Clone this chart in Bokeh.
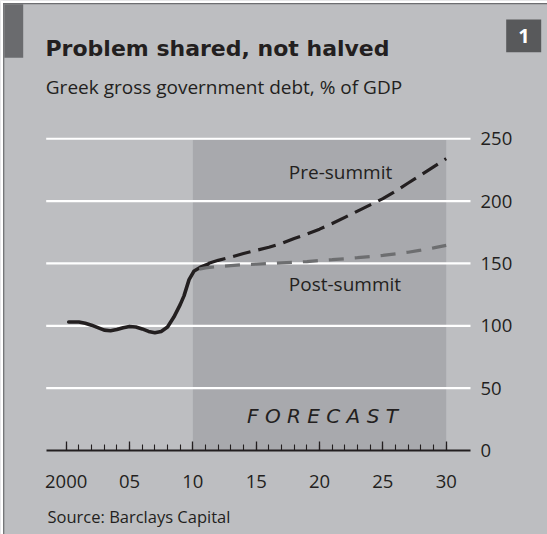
from bokeh.plotting import figure
from bokeh.models import Range1d, LinearAxis, FixedTicker, CustomJSTickFormatter
from bokeh.core.properties import value
from bokeh.embed import file_html
from bokeh.resources import INLINE

# ---------------- data ----------------
hist_years = [2000.2, 2001.0, 2001.5, 2002.0, 2002.5, 2003.0, 2003.5, 2004.0, 2004.5,
              2005.0, 2005.5, 2006.0, 2006.5, 2007.0, 2007.5, 2008.0, 2008.5, 2009.0,
              2009.3, 2009.7, 2010.1, 2010.6, 2011.2]
hist_debt = [103, 103, 102, 100.5, 98.5, 96.5, 96, 97, 98.5,
             99.5, 99, 97.5, 95.5, 94.5, 95.5, 99, 107, 117,
             124, 137, 144, 147, 149.5]

pre_years = [2011.2, 2012, 2013, 2014, 2015, 2016, 2017, 2018, 2019, 2020,
             2021, 2022, 2023, 2024, 2025, 2026, 2027, 2028, 2029, 2030]
pre_debt = [150, 152.5, 155, 158, 160.5, 163, 166, 170, 173.5, 177.5,
            182, 187, 192, 197, 202, 208, 214.5, 221, 227.5, 234]

post_years = [2010.5, 2011, 2012, 2013, 2014, 2015, 2016, 2017, 2018, 2019, 2020,
              2021, 2022, 2023, 2024, 2025, 2026, 2027, 2028, 2029, 2030]
post_debt = [145.5, 146.5, 147.5, 148.3, 149, 149.5, 150, 150.5, 151, 151.5, 152.3,
             153, 153.8, 154.6, 155.5, 156.5, 157.7, 159, 160.7, 162.5, 164.5]

forecast_span = [2010, 2030]
forecast_top = 249

y_ticks = [0, 50, 100, 150, 200, 250]
x_major = [2000, 2005, 2010, 2015, 2020, 2025, 2030]
x_minor = list(range(2000, 2031))
x_labels = {2000: "2000", 2005: "05", 2010: "10", 2015: "15", 2020: "20", 2025: "25", 2030: "30"}

title_text = "Problem shared, not halved"
subtitle_text = "Greek gross government debt, % of GDP"
source_text = "Source: Barclays Capital"
chart_no = "1"
pre_label = "Pre-summit"
post_label = "Post-summit"
forecast_label = "F O R E C A S T"

# ---------------- layout helpers (reference pixel -> data) ----------------
W, H = 547, 534
X2000_PX, PX_YEAR = 65.7, 12.667
Y0_PX, PX_UNIT = 450.0, 1.247


def dx(px):
    return 2000 + (px - X2000_PX) / PX_YEAR


def dy(py):
    return (Y0_PX - py) / PX_UNIT


BG = "#bdbec1"
SHADE = "#a8a9ad"
INK = "#231f20"
FONT = "Open Sans"

p = figure(width=W, height=H, output_backend="svg", toolbar_location=None,
           x_range=Range1d(dx(0), dx(W)), y_range=Range1d(dy(H), dy(0)),
           min_border=0, min_border_left=0, min_border_right=0,
           min_border_top=0, min_border_bottom=0)
for r in list(p.below) + list(p.left):
    r.visible = False
p.below = []
p.left = []
p.grid.visible = False
p.background_fill_color = BG
p.border_fill_color = BG
p.outline_line_color = None

AX_L, AX_R = dx(45.7), dx(470)

# frame edge (white strip + thin dark border at top and left)
p.quad(left=[dx(0)], right=[dx(2.6)], top=[dy(0)], bottom=[dy(H)], fill_color="white", line_color=None)
p.quad(left=[dx(0)], right=[dx(W)], top=[dy(0)], bottom=[dy(2.6)], fill_color="white", line_color=None)
p.quad(left=[dx(2.6)], right=[dx(3.8)], top=[dy(2.6)], bottom=[dy(H)], fill_color="#6d6e71", line_color=None)
p.quad(left=[dx(2.6)], right=[dx(W)], top=[dy(2.6)], bottom=[dy(3.8)], fill_color="#6d6e71", line_color=None)

# forecast shading
p.quad(left=[forecast_span[0]], right=[forecast_span[1]], bottom=[0], top=[forecast_top],
       fill_color=SHADE, line_color=None)

# gridlines
gy = [t for t in y_ticks if t > 0]
p.segment(x0=[AX_L] * len(gy), x1=[AX_R] * len(gy), y0=gy, y1=gy,
          line_color="white", line_width=2.2)

# series
p.line(hist_years, hist_debt, line_color=INK, line_width=3.6, line_join="round", line_cap="round")
p.line(post_years, post_debt, line_color="#6d6e70", line_width=3.2, line_dash="15 11")
p.line(pre_years, pre_debt, line_color=INK, line_width=3.2, line_dash="18 8")

# axes
xa = LinearAxis(fixed_location=0, bounds=(AX_L, AX_R),
                ticker=FixedTicker(ticks=x_major, minor_ticks=x_minor))
xa.formatter = CustomJSTickFormatter(args=dict(lab={str(k): v for k, v in x_labels.items()}),
                                     code="return lab[String(Math.round(tick))] || '';")
xa.axis_line_color = INK
xa.axis_line_width = 2
xa.major_tick_in = 9
xa.major_tick_out = 0
xa.minor_tick_in = 6
xa.minor_tick_out = 0
xa.major_tick_line_color = INK
xa.minor_tick_line_color = INK
xa.major_tick_line_width = 1.3
xa.minor_tick_line_width = 1.1
xa.major_label_standoff = 24
xa.major_label_text_font = FONT
xa.major_label_text_font_size = "18.5px"
xa.major_label_text_color = INK
p.add_layout(xa, "below")

ya = LinearAxis(fixed_location=AX_R, ticker=FixedTicker(ticks=y_ticks))
ya.axis_line_color = None
ya.major_tick_line_color = None
ya.minor_tick_line_color = None
ya.major_tick_in = 0
ya.major_tick_out = 0
ya.minor_tick_in = 0
ya.minor_tick_out = 0
ya.major_label_standoff = 10
ya.major_label_text_font = FONT
ya.major_label_text_font_size = "18.5px"
ya.major_label_text_color = INK
p.add_layout(ya, "right")

# decorations
p.quad(left=[dx(3.8)], right=[dx(22.7)], top=[dy(3.8)], bottom=[dy(57.3)],
       fill_color="#6a6b6e", line_color=None)
p.quad(left=[dx(505.7)], right=[dx(540.7)], top=[dy(19)], bottom=[dy(51.7)],
       fill_color="#58595b", line_color=None)
p.text(x=[dx(523.5)], y=[dy(35.3)], text=[chart_no], text_font=value(FONT),
       text_font_style="bold", text_font_size="20px", text_color="white",
       text_align="center", text_baseline="middle")

p.text(x=[dx(45)], y=[dy(48)], text=[title_text], text_font=value("DejaVu Sans"),
       text_font_style="bold", text_font_size="22px", text_color=INK,
       text_align="left", text_baseline="middle")
p.text(x=[dx(45.3)], y=[dy(86)], text=[subtitle_text], text_font=value(FONT),
       text_font_size="19px", text_color=INK, text_align="left", text_baseline="middle")
p.text(x=[dx(47)], y=[dy(516)], text=[source_text], text_font=value(FONT),
       text_font_size="16.5px", text_color=INK, text_align="left", text_baseline="middle")

p.text(x=[dx(288.3)], y=[dy(171.8)], text=[pre_label], text_font=value(FONT),
       text_font_size="19px", text_color=INK, text_align="left", text_baseline="middle")
p.text(x=[dx(288.3)], y=[dy(283.7)], text=[post_label], text_font=value(FONT),
       text_font_size="19px", text_color=INK, text_align="left", text_baseline="middle")
p.text(x=[dx(322)], y=[dy(415.8)], text=[forecast_label], text_font=value("DejaVu Sans"),
       text_font_style="italic", text_font_size="20px", text_color=INK,
       text_align="center", text_baseline="middle")

open("out.html", "w").write(file_html(p, INLINE))
